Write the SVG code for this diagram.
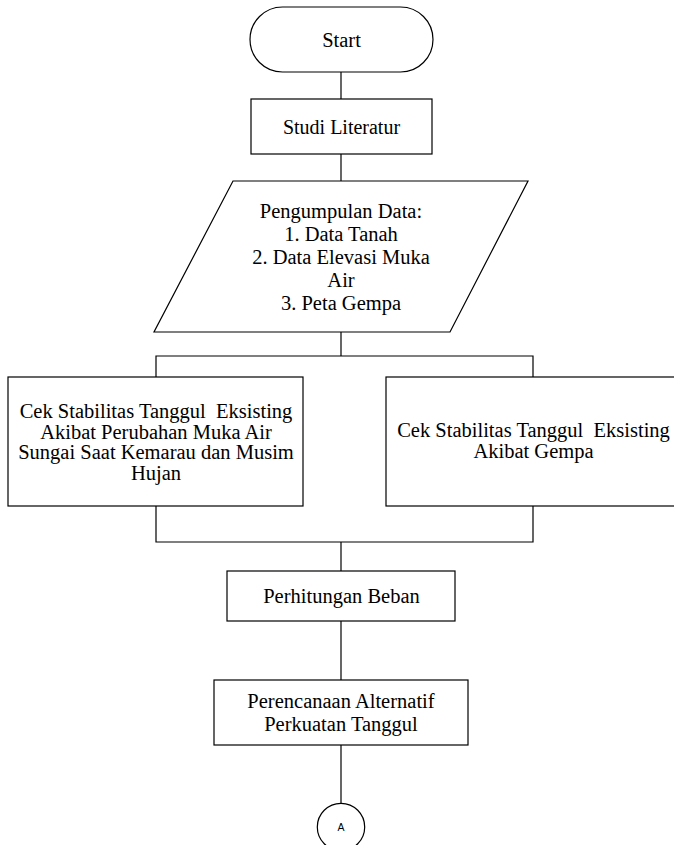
<svg xmlns="http://www.w3.org/2000/svg" width="674" height="845" viewBox="0 0 674 845">
<style>
.s{fill:#fff;stroke:#000;stroke-width:1.2}
.c{fill:none;stroke:#000;stroke-width:1.2}
.t{font-family:"Liberation Serif","Times New Roman",serif;font-size:20.5px;fill:#000;text-anchor:middle}
.a{font-family:"Liberation Sans",Arial,sans-serif;font-size:10.5px;fill:#000;text-anchor:middle}
</style>
<rect width="674" height="845" fill="#fff"/>
<g id="connectors">
<line class="c" x1="341" y1="72" x2="341" y2="99"/>
<line class="c" x1="341" y1="154" x2="341" y2="181"/>
<line class="c" x1="341" y1="332" x2="341" y2="356"/>
<polyline class="c" points="156,377 156,356 533,356 533,377"/>
<polyline class="c" points="156,506 156,542 533,542 533,506"/>
<line class="c" x1="341" y1="542" x2="341" y2="571"/>
<line class="c" x1="341" y1="621" x2="341" y2="680"/>
<line class="c" x1="341" y1="745" x2="341" y2="803"/>
</g>
<g id="start">
<rect class="s" x="250" y="7" width="183" height="65" rx="32.5" ry="32.5"/>
<text class="t" x="341.5" y="47">Start</text>
</g>
<g id="studi">
<rect class="s" x="251" y="99" width="181" height="55"/>
<text class="t" x="341.5" y="133.5" style="font-size:20px">Studi Literatur</text>
</g>
<g id="data">
<polygon class="s" points="233,181 528,181 450,332 154,332"/>
<text class="t" x="341" y="217.5">Pengumpulan Data:</text>
<text class="t" x="341" y="240.7">1. Data Tanah</text>
<text class="t" x="341" y="264">2. Data Elevasi Muka</text>
<text class="t" x="341" y="287">Air</text>
<text class="t" x="341" y="310">3. Peta Gempa</text>
</g>
<g id="cek1">
<rect class="s" x="8" y="377" width="295" height="129"/>
<text class="t" x="156" y="418.3" xml:space="preserve">Cek Stabilitas Tanggul  Eksisting</text>
<text class="t" x="156" y="439">Akibat Perubahan Muka Air</text>
<text class="t" x="156" y="459.3">Sungai Saat Kemarau dan Musim</text>
<text class="t" x="156" y="479.5">Hujan</text>
</g>
<g id="cek2">
<rect class="s" x="386" y="377" width="300" height="129"/>
<text class="t" x="533.5" y="437.3" xml:space="preserve">Cek Stabilitas Tanggul  Eksisting</text>
<text class="t" x="533.5" y="458.3">Akibat Gempa</text>
</g>
<g id="beban">
<rect class="s" x="227" y="571" width="228" height="50"/>
<text class="t" x="341.5" y="603.3">Perhitungan Beban</text>
</g>
<g id="perencanaan">
<rect class="s" x="214" y="680" width="254" height="65"/>
<text class="t" x="341" y="708.3">Perencanaan Alternatif</text>
<text class="t" x="341" y="731">Perkuatan Tanggul</text>
</g>
<g id="connA">
<circle class="s" cx="341" cy="827" r="23.7"/>
<text class="a" x="341" y="830.5">A</text>
</g>
</svg>
